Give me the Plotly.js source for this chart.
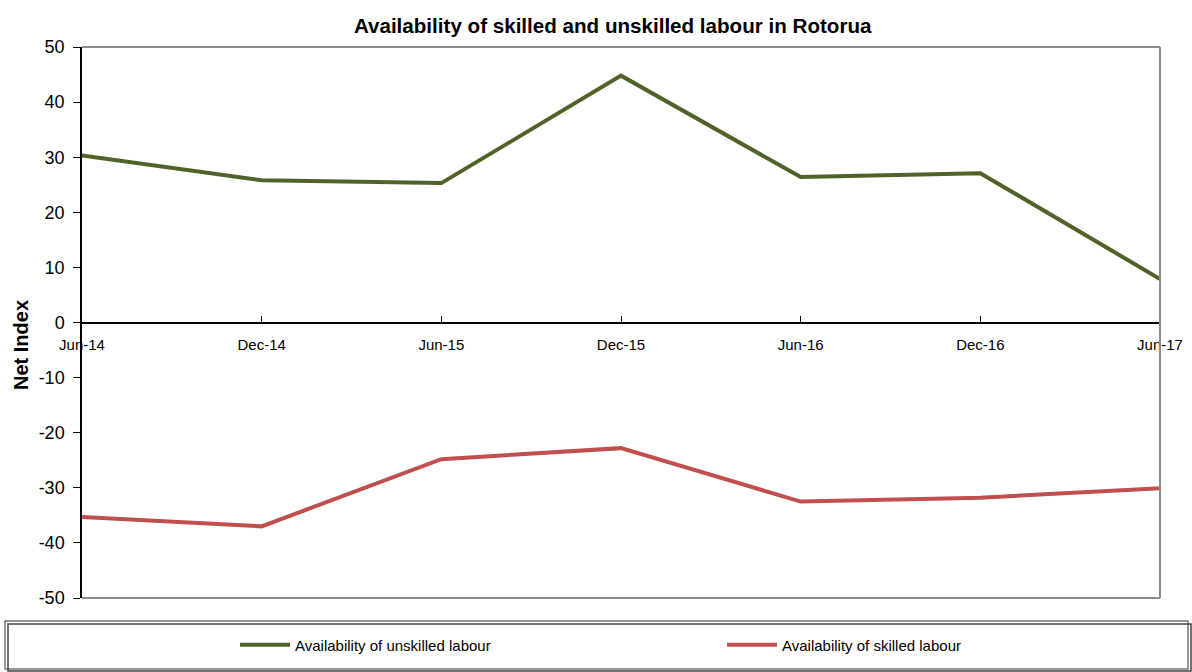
<!DOCTYPE html>
<html><head><meta charset="utf-8">
<script src="https://cdn.plot.ly/plotly-3.0.1.min.js"></script>
<style>body{margin:0;background:#fff}#chart{width:1192px;height:672px}</style>
</head><body><div id="chart"></div>
<script>
const periods = ["Jun-14","Dec-14","Jun-15","Dec-15","Jun-16","Dec-16","Jun-17"];
const unskilled = [30.3, 25.8, 25.3, 44.8, 26.4, 27.1, 7.9];
const skilled = [-35.3, -37.0, -24.8, -22.8, -32.5, -31.8, -30.1];
const yTicks = [50,40,30,20,10,0,-10,-20,-30,-40,-50];

const narrow = "Liberation Sans Narrow, Arial Narrow, Liberation Sans, Arial, sans-serif";
const traces = [
  {x: periods, y: unskilled, type:'scatter', mode:'lines', name:'Availability of unskilled labour',
   line:{color:'#4F6228', width:4}},
  {x: periods, y: skilled, type:'scatter', mode:'lines', name:'Availability of skilled labour',
   line:{color:'#C0504D', width:4}}
];
const layout = {
  width:1192, height:672,
  margin:{l:82, r:32, t:47, b:74, autoexpand:false},
  paper_bgcolor:'#fff', plot_bgcolor:'#fff',
  title:{text:'<b>Availability of skilled and unskilled labour in Rotorua</b>', x:0.514, xref:'container', y:0.973, yref:'container',
    font:{family:narrow, size:20.6, color:'#000'}},
  showlegend:true,
  legend:{orientation:'h', x:(235-82)/1078, xanchor:'left', y:-(645-598)/551, yanchor:'middle',
    font:{family:narrow, size:15, color:'#000'}, entrywidth:422, entrywidthmode:'pixels', itemwidth:50,
    bgcolor:'rgba(0,0,0,0)'},
  xaxis:{type:'category', range:[0,6], anchor:'free', position:0.5,
    showline:true, linecolor:'#000', linewidth:1.5, ticks:'inside', ticklen:6, tickcolor:'#000',
    showgrid:false, zeroline:false, tickfont:{family:narrow, size:15, color:'#000'}, ticklabelstandoff:9},
  yaxis:{range:[-50,50], tickvals:yTicks, ticktext:yTicks.map(String), showgrid:false, zeroline:false,
    showline:true, linecolor:'#000', linewidth:1.5, ticks:'outside', ticklen:7, tickcolor:'#000', ticklabelstandoff:5,
    tickfont:{family:'Liberation Sans, Arial, sans-serif', size:18, color:'#000'}},
  shapes:[
    {type:'line', xref:'paper', yref:'paper', x0:0, x1:1, y0:1, y1:1, line:{color:'#8c8c8c', width:2}},
    {type:'line', xref:'paper', yref:'paper', x0:1, x1:1, y0:0, y1:1, line:{color:'#8c8c8c', width:2}},
    {type:'line', xref:'paper', yref:'paper', x0:0, x1:1, y0:0, y1:0, line:{color:'#8c8c8c', width:2}},
    {type:'rect', xref:'paper', yref:'paper', x0:(8-82)/1078, x1:(1191-82)/1078, y0:-(671-598)/551, y1:-(624-598)/551,
     line:{color:'#444', width:1.5}, fillcolor:'rgba(0,0,0,0)'},
    {type:'rect', xref:'paper', yref:'paper', x0:(5-82)/1078, x1:(1188-82)/1078, y0:-(669-598)/551, y1:-(621-598)/551,
     line:{color:'#777', width:1.5}, fillcolor:'#fff', layer:'below'}
  ],
  annotations:[
    {text:'<b>Net Index</b>', xref:'paper', yref:'paper', x:(21-82)/1078, y:(598-345)/551, xanchor:'center', yanchor:'middle',
     textangle:-90, showarrow:false, font:{family:narrow, size:20, color:'#000'}}
  ]
};
Plotly.newPlot('chart', traces, layout, {displayModeBar:false});
</script></body></html>
